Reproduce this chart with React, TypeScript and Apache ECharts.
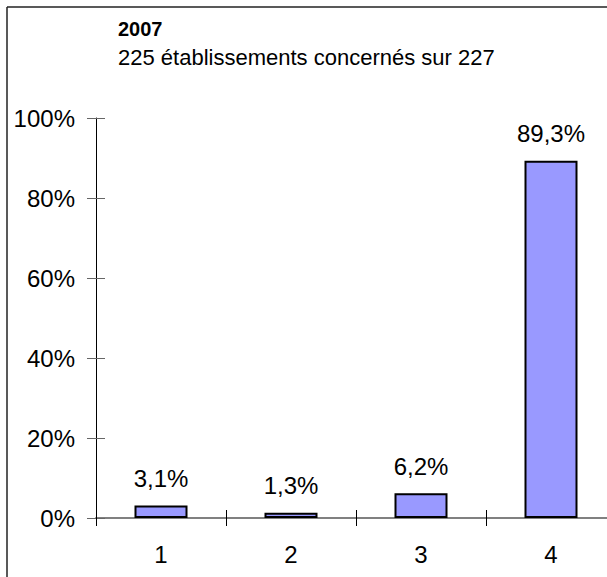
import React, { useEffect, useRef } from "react";
import * as echarts from "echarts";

const categories = ["1", "2", "3", "4"];
const values = [3.1, 1.3, 6.2, 89.3];
const titleText = "2007";
const subtitleText = "225 établissements concernés sur 227";
const yMin = 0;
const yMax = 100;
const yInterval = 20;

const FONT = "'Liberation Sans', Arial, sans-serif";

export default function App() {
  const ref = useRef<HTMLDivElement>(null);
  useEffect(() => {
    if (!ref.current) return;
    const chart = echarts.init(ref.current, null, { renderer: "svg" });
    const fmt = (v: number) => v.toFixed(1).replace(".", ",") + "%";
    chart.setOption({
      animation: false,
      backgroundColor: "#ffffff",
      textStyle: { fontFamily: FONT, color: "#000" },
      grid: { left: 96, top: 118, width: 520, height: 400, containLabel: false, outerBoundsMode: "none" },
      xAxis: [
        {
          type: "category",
          data: categories,
          position: "bottom",
          boundaryGap: true,
          axisLine: { show: true, lineStyle: { color: "#808080", width: 2 } },
          axisTick: { show: true, length: 8, lineStyle: { color: "#000", width: 1 } },
          axisLabel: { fontSize: 24, color: "#000", fontFamily: FONT, margin: 24 },
          splitLine: { show: false },
        },
        {
          type: "category",
          data: categories,
          position: "bottom",
          boundaryGap: true,
          axisLine: { show: false },
          axisTick: { show: true, inside: true, length: 8, lineStyle: { color: "#000", width: 1 } },
          axisLabel: { show: false },
          splitLine: { show: false },
        },
      ],
      yAxis: [
        {
          type: "value",
          min: yMin,
          max: yMax,
          interval: yInterval,
          position: "left",
          axisLine: { show: true, lineStyle: { color: "#000", width: 1 } },
          axisTick: { show: true, length: 9, lineStyle: { color: "#666", width: 1 } },
          axisLabel: {
            fontSize: 24,
            color: "#000",
            fontFamily: FONT,
            margin: 21,
            formatter: (v: number) => v + "%",
          },
          splitLine: { show: false },
        },
        {
          type: "value",
          min: yMin,
          max: yMax,
          interval: yInterval,
          position: "left",
          axisLine: { show: false },
          axisTick: { show: true, inside: true, length: 9, lineStyle: { color: "#666", width: 1 } },
          axisLabel: { show: false },
          splitLine: { show: false },
        },
      ],
      series: [
        {
          type: "bar",
          xAxisIndex: 0,
          yAxisIndex: 0,
          data: values,
          barWidth: 53,
          itemStyle: { color: "#9999FF", borderColor: "#000", borderWidth: 2 },
          label: {
            show: true,
            position: "top",
            distance: 15,
            fontSize: 24,
            color: "#000",
            fontFamily: FONT,
            formatter: (p: any) => fmt(p.value),
          },
        },
      ],
      graphic: [
        {
          type: "line",
          shape: { x1: 7, y1: 7, x2: 607, y2: 7 },
          style: { stroke: "#222", lineWidth: 1.5 },
        },
        {
          type: "line",
          shape: { x1: 7, y1: 7, x2: 7, y2: 577 },
          style: { stroke: "#222", lineWidth: 1.5 },
        },
        {
          type: "text",
          x: 118,
          y: 28.5,
          style: {
            text: titleText,
            fontSize: 20,
            fontWeight: "bold",
            fontFamily: FONT,
            fill: "#000",
            textVerticalAlign: "middle",
            verticalAlign: "middle",
          },
        },
        {
          type: "text",
          x: 118,
          y: 57,
          style: {
            text: subtitleText,
            fontSize: 22,
            fontFamily: FONT,
            fill: "#000",
            textVerticalAlign: "middle",
            verticalAlign: "middle",
          },
        },
      ],
    });
    return () => chart.dispose();
  }, []);
  return (
    <div
      ref={ref}
      style={{ position: "absolute", left: 0, top: 0, width: 607, height: 577 }}
    />
  );
}
